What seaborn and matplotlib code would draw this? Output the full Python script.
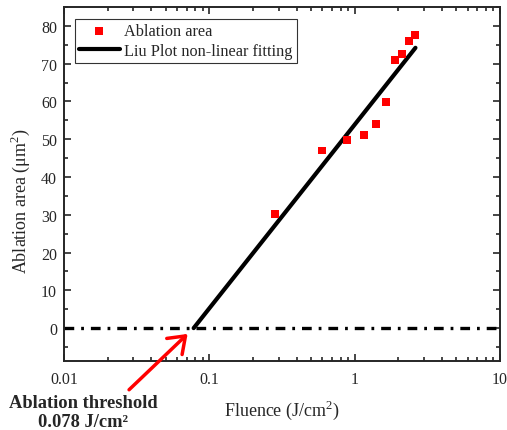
import numpy as np
import pandas as pd
import seaborn as sns
import matplotlib.pyplot as plt
from matplotlib.ticker import FixedLocator, LogLocator, MultipleLocator, FuncFormatter

# measured points
fluence = [0.283, 0.60, 0.89, 1.16, 1.40, 1.65, 1.89, 2.12, 2.36, 2.59]
area = [30.2, 47.0, 49.8, 51.1, 54.0, 59.9, 71.0, 72.6, 76.0, 77.7]

# Liu plot fit (straight line on log x)
fit_fluence = [0.078, 2.62]
fit_area = [0.0, 74.2]

threshold = 0.078

df = pd.DataFrame({"Fluence": fluence, "Area": area})
fit_df = pd.DataFrame({"Fluence": fit_fluence, "Area": fit_area})

sns.set_style("ticks")
plt.rcParams["font.family"] = ["Liberation Serif", "DejaVu Serif"]
plt.rcParams["mathtext.fontset"] = "custom"
plt.rcParams["mathtext.rm"] = "Liberation Serif"
plt.rcParams["lines.scale_dashes"] = False

fig = plt.figure(figsize=(5.07, 4.31), dpi=100)
ax = fig.add_axes([64 / 507, 69 / 431, 436 / 507, 354 / 431])

ax.axhline(0, color="black", lw=2.4, ls=(0, (7, 5, 2, 5)), zorder=1)
sns.lineplot(data=fit_df, x="Fluence", y="Area", color="black", lw=3,
             label="Liu Plot non-linear fitting", ax=ax, zorder=2)
sns.scatterplot(data=df, x="Fluence", y="Area", color="red", marker="s",
                s=32, edgecolor="none", label="Ablation area", ax=ax, zorder=3)

ax.set_xscale("log")
ax.set_xlim(0.01, 10)
ax.set_ylim(-8.7, 85)

ax.xaxis.set_major_locator(FixedLocator([0.01, 0.1, 1, 10]))
ax.xaxis.set_minor_locator(LogLocator(base=10, subs=np.arange(2, 10)))
ax.xaxis.set_major_formatter(FuncFormatter(lambda v, p: "%g" % v))
ax.yaxis.set_major_locator(FixedLocator(list(range(0, 90, 10))))
ax.yaxis.set_minor_locator(MultipleLocator(5))

ax.tick_params(which="both", direction="in", top=True, right=True,
               width=1.2, labelsize=11.5)
ax.tick_params(which="major", length=5)
ax.tick_params(which="minor", length=3)
ax.tick_params(axis="x", pad=7)
ax.tick_params(axis="y", pad=5)
for s in ax.spines.values():
    s.set_linewidth(1.4)

ax.set_xlabel("Fluence (J/cm$^{2}$)", fontsize=13)
ax.set_ylabel("Ablation area (μm$^{2}$)", fontsize=13)
ax.xaxis.set_label_coords(0.5, -0.105)
ax.yaxis.set_label_coords(-0.073, 0.455)

# legend: points first, then fit line
h, l = ax.get_legend_handles_labels()
leg = ax.legend([h[1], h[0]], [l[1], l[0]], loc="upper left",
                bbox_to_anchor=(0.025, 0.966), fontsize=11.7, frameon=True,
                fancybox=False, edgecolor="black", handlelength=2.5,
                handletextpad=0.3, labelspacing=0.22, borderpad=0.25,
                borderaxespad=0)
leg.get_frame().set_linewidth(0.8)

ax.annotate("Ablation threshold\n0.078 J/cm²", xy=(threshold, 0),
            xycoords="data", xytext=(83 / 507, 1 - 395 / 431),
            textcoords="figure fraction", ha="center", va="top",
            fontsize=13.3, fontweight="bold", linespacing=1.15,
            arrowprops=dict(arrowstyle="->,head_length=0.55,head_width=0.4",
                            color="red", lw=2.5, mutation_scale=20,
                            shrinkA=1, shrinkB=6,
                            relpos=(0.78, 1.0)))

fig.savefig("out.png", dpi=100)
